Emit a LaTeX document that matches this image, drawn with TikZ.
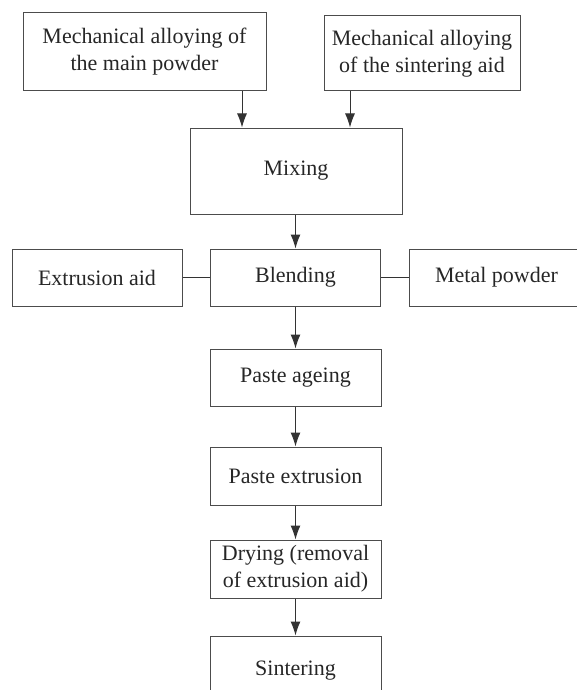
\documentclass[tikz,border=0pt]{standalone}
\usepackage{fontspec}
\setmainfont{Liberation Serif}
\usetikzlibrary{arrows.meta}

\begin{document}
\begin{tikzpicture}[x=1pt,y=-1pt]

\clip (0,0) rectangle (577,690);

\begin{scope}[every node/.style={rectangle,draw=black!70,line width=1pt,text=black!85,
              font=\fontsize{22}{27}\selectfont,align=center,inner sep=0pt}]
    % Alloying steps
    \node (A) at (144.5,52) [minimum width=243pt, minimum height=78pt]
        {Mechanical alloying of\\the main powder};
    \node (B) at (422,53.5) [minimum width=196pt, minimum height=75pt]
        {Mechanical alloying\\of the sintering aid};

    \node (C) at (296,171) [minimum width=212pt, minimum height=86pt] {Mixing};

    % Blending row
    \node (E) at (97,277.5) [minimum width=170pt, minimum height=57pt] {Extrusion aid};
    \node (D) at (295.5,277.5) [minimum width=170pt, minimum height=57pt] {Blending};
    \node (M) at (496.5,277.5) [minimum width=175pt, minimum height=57pt] {Metal powder};

    % Paste route
    \node (P) at (295.5,377.5) [minimum width=171pt, minimum height=57pt] {Paste ageing};
    \node (X) at (295.5,476) [minimum width=171pt, minimum height=58pt] {Paste extrusion};
    \node (R) at (295.5,569) [minimum width=171pt, minimum height=58pt]
        {Drying (removal\\of extrusion aid)};
    \node (S) at (295.5,671) [minimum width=171pt, minimum height=70pt] {Sintering};
\end{scope}

\coordinate (c1) at ([xshift=-54pt]C.north);
\coordinate (c2) at ([xshift=54pt]C.north);

\begin{scope}[>={Latex[length=14pt,width=10pt]},
              every edge/.style={draw=black!80,line width=1pt}]
    \path [->] (A.south -| c1) edge (c1);
    \path [->] (B.south -| c2) edge (c2);

    \path [->] (C.south -| D.north) edge (D.north);

    \path (E) edge (D);
    \path (D) edge (M);

    \path [->] (D) edge (P);
    \path [->] (P) edge (X);
    \path [->] (X) edge (R);
    \path [->] (R) edge (S);
\end{scope}

\end{tikzpicture}
\end{document}
